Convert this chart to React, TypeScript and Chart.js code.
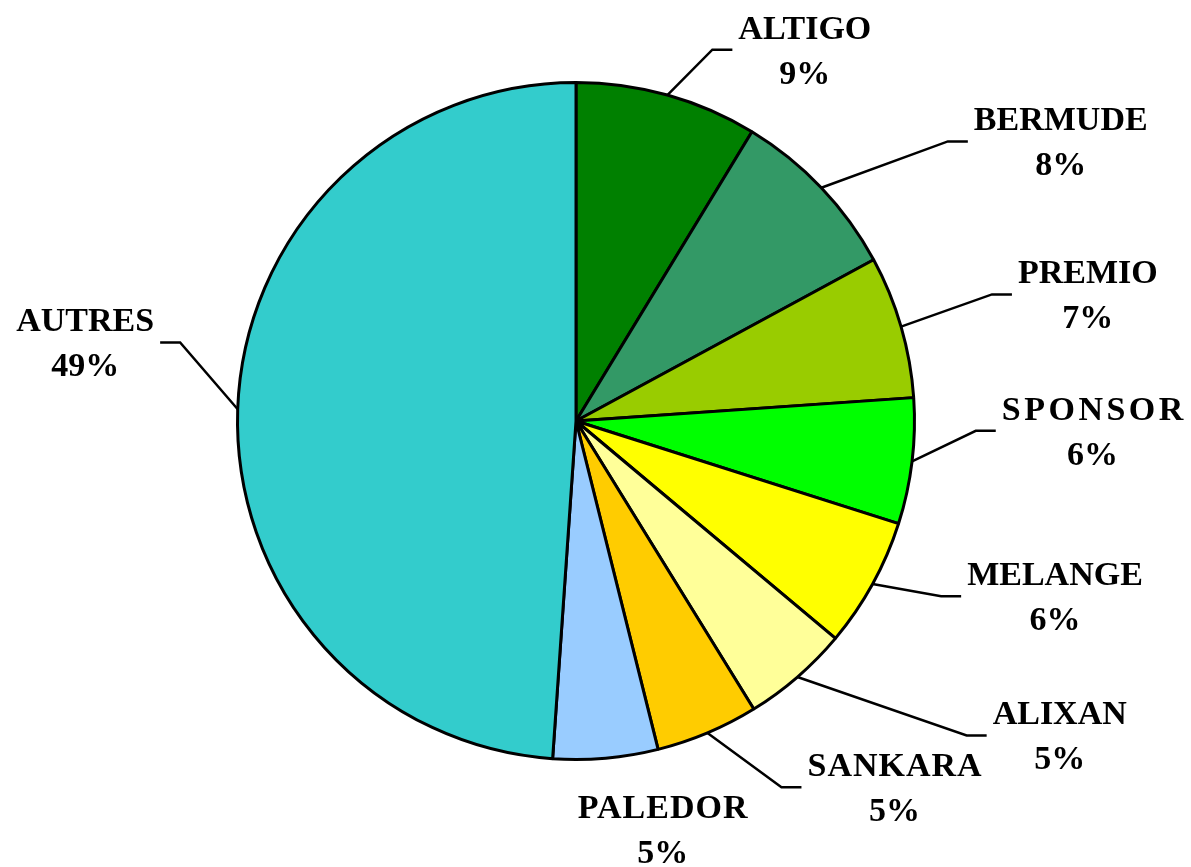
import React, { useEffect, useRef } from "react";
import { Chart, registerables } from "chart.js";

Chart.register(...registerables);

// ---- data ----
const categories = ["ALTIGO", "BERMUDE", "PREMIO", "SPONSOR", "MELANGE", "ALIXAN", "SANKARA", "PALEDOR", "AUTRES"];
const shares = [8.7, 8.4, 6.8, 6.0, 6.2, 5.1, 4.9, 5.0, 48.9];
const sliceColors = ["#008000", "#339966", "#99CC00", "#00FF00", "#FFFF00", "#FFFF99", "#FFCC00", "#99CCFF", "#33CCCC"];

// ---- label layout (block centre relative to pie centre, in radius units) ----
const labelOffsets: [number, number][] = [
  [0.676, -1.097],
  [1.432, -0.826],
  [1.512, -0.374],
  [1.526, 0.029],
  [1.415, 0.518],
  [1.429, 0.929],
  [0.941, 1.082],
  [0.256, 1.206],
  [-1.45, -0.232],
];
const showLeader = [true, true, true, true, true, true, true, false, true];
const letterSpacings = [0, 0, 0, 3.5, 0, 0, 1, 1, 0];

const FONT = 'bold 34px "Liberation Serif", "Times New Roman", serif';

const leaderLabelPlugin = {
  id: "leaderLabels",
  afterDatasetsDraw(chart: any) {
    const ctx: CanvasRenderingContext2D = chart.ctx;
    const meta = chart.getDatasetMeta(0);
    const total = shares.reduce((a, b) => a + b, 0);
    meta.data.forEach((arc: any, i: number) => {
      const { x, y, startAngle, endAngle, outerRadius } = arc.getProps(
        ["x", "y", "startAngle", "endAngle", "outerRadius"],
        true
      );
      const mid = (startAngle + endAngle) / 2;
      const ex = x + Math.cos(mid) * outerRadius;
      const ey = y + Math.sin(mid) * outerRadius;
      const [ox, oy] = labelOffsets[i];
      const cx = x + ox * outerRadius;
      const cy = y + oy * outerRadius;
      const line1 = categories[i];
      const line2 = Math.round((shares[i] / total) * 100) + "%";

      ctx.save();
      ctx.font = FONT;
      (ctx as any).letterSpacing = letterSpacings[i] + "px";
      const w1 = ctx.measureText(line1).width - letterSpacings[i];
      (ctx as any).letterSpacing = "0px";
      const w2 = ctx.measureText(line2).width;
      const w = Math.max(w1, w2);

      if (showLeader[i]) {
        const right = ox > 0;
        const endX = right ? cx - w / 2 - 6 : cx + w / 2 + 6;
        const elbowX = right ? endX - 20 : endX + 20;
        ctx.strokeStyle = "#000";
        ctx.lineWidth = 2.5;
        ctx.beginPath();
        ctx.moveTo(ex, ey);
        ctx.lineTo(elbowX, cy);
        ctx.lineTo(endX, cy);
        ctx.stroke();
      }

      ctx.fillStyle = "#000";
      ctx.textAlign = "center";
      ctx.textBaseline = "alphabetic";
      (ctx as any).letterSpacing = letterSpacings[i] + "px";
      ctx.fillText(line1, cx + letterSpacings[i] / 2, cy - 11);
      (ctx as any).letterSpacing = "0px";
      ctx.fillText(line2, cx, cy + 34);
      ctx.restore();
    });
  },
};

export default function App() {
  const canvasRef = useRef<HTMLCanvasElement | null>(null);

  useEffect(() => {
    document.body.style.margin = "0";
    const canvas = canvasRef.current;
    if (!canvas) return;
    const chart = new Chart(canvas, {
      type: "pie",
      data: {
        labels: categories,
        datasets: [
          {
            data: shares,
            backgroundColor: sliceColors,
            borderColor: "#000000",
            borderWidth: 3,
          },
        ],
      },
      options: {
        responsive: false,
        animation: false,
        layout: { padding: { left: 236, right: 275, top: 81, bottom: 106 } },
        plugins: {
          legend: { display: false },
          tooltip: { enabled: false },
          title: { display: false },
        },
      },
      plugins: [leaderLabelPlugin],
    });
    return () => chart.destroy();
  }, []);

  return (
    <div style={{ position: "absolute", left: 0, top: 0, width: 1191, height: 867, background: "#fff" }}>
      <canvas ref={canvasRef} width={1191} height={867} />
    </div>
  );
}
